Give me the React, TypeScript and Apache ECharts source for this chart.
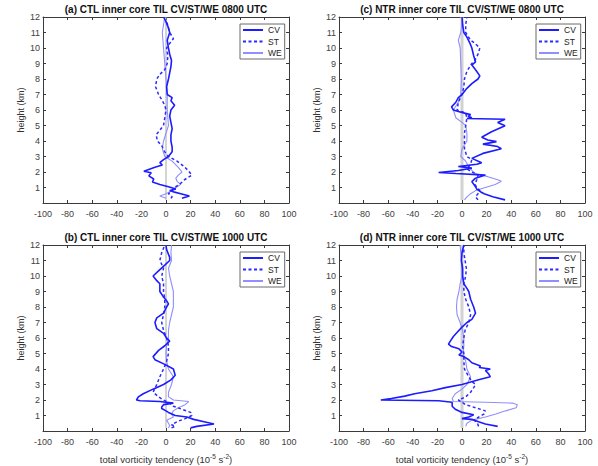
import React, { useEffect, useRef } from "react";
import * as echarts from "echarts";

// ---- data: [tendency (1e-5 s^-2), height (km)] ----
const ctl0800CV = [[13,0.3],[19,0.45],[12,0.6],[7,0.7],[3,0.8],[8,0.9],[2,1.05],[-5,1.2],[-11,1.35],[-10,1.55],[-14,1.75],[-12,1.95],[-18,2.05],[-9,2.3],[-3,2.45],[-5,2.6],[-2,2.8],[2,3],[5,3.3],[5,3.6],[4,4],[4,4.4],[5,4.8],[4,5.2],[3,5.6],[4,6],[7,6.3],[4,6.6],[5,6.8],[1,7],[0.5,7.5],[2,8],[3,8.4],[4,8.8],[4.5,9.2],[3,9.6],[2,10],[1,10.5],[3,11],[2,11.3],[0,11.7],[-2,12]];
const ctl0800ST = [[4,0.3],[5,0.4],[2,0.6],[5,0.8],[7,1.0],[11,1.2],[15,1.5],[21,1.8],[18,2.1],[14,2.4],[9,2.7],[2,3],[-1,3.3],[-3.5,3.7],[-7,4],[-8,4.4],[-5,4.7],[-2,5],[-1,5.5],[0,6],[-1,6.3],[-3,6.6],[-6,7],[-8.5,7.5],[-7.5,8],[-5,8.3],[-1,8.6],[1,9],[1.5,9.5],[0.5,10],[3,10.3],[6,10.6],[3,11],[0.5,11.7]];
const ctl0800WE = [[0,0.3],[-5,0.45],[0,0.6],[5,0.8],[8,1.0],[12,1.2],[9,1.4],[8,1.6],[10,1.8],[13,2.0],[10,2.3],[5,2.7],[-1,3],[-3,3.5],[-2,4],[2,5],[1,6],[1,7],[0,8],[-1,9],[-2,10],[-3,11],[-1,12]];

const ntr0800CV = [[35,0.2],[25,0.4],[18,0.6],[15,0.73],[12,0.9],[11,1.05],[8,1.38],[11,1.6],[19,1.8],[-5,1.9],[-19,1.97],[-3,2.1],[8,2.25],[-3,2.35],[12,2.5],[16,2.6],[8,2.88],[17,3.2],[32,3.5],[29,3.64],[17,3.8],[28,3.96],[21,4.07],[16,4.24],[24,4.6],[35,4.98],[29,5.19],[35,5.4],[4,5.45],[8,5.5],[5,5.6],[7,5.7],[2,5.8],[-3,5.9],[-7,6.0],[-8.5,6.2],[-5,6.5],[-3,6.8],[0,7],[4,7.4],[8,7.7],[13,8],[14.5,8.2],[11,8.6],[8,8.9],[11,9.1],[9.5,9.5],[8,10],[6.5,10.3],[4,10.7],[1.5,11],[0.5,11.5],[0,12]];
const ntr0800ST = [[13,0.2],[11,0.4],[13,0.6],[14.5,0.8],[12,1.0],[10.5,1.2],[12,1.5],[13,1.8],[8,2.0],[4,2.2],[7,2.5],[8,2.8],[4,3.0],[2,3.5],[2,4],[2,4.5],[3,5],[4,5.5],[3,5.8],[-4,6],[-3,6.5],[0,7],[1.5,7.5],[2,8],[4,8.5],[8,9],[10.5,9.2],[13,9.6],[14.5,10],[10.5,10.3],[7,10.5],[3,11],[3,11.5],[4,12]];
const ntr0800WE = [[2,0.2],[4,0.4],[7,0.6],[11,0.8],[19,1.0],[27,1.2],[32,1.4],[29,1.5],[21,1.7],[11,1.9],[8,2.1],[5,2.4],[3,2.7],[-1,3],[0,3.5],[4,4],[4,4.5],[3,5],[0,5.2],[-5,5.5],[-7,6],[-3,6.5],[-1,7],[-0.5,8],[-1,9],[-1.5,10],[-3,10.5],[-1,11],[0.5,12]];

const ctl1000CV = [[20,0.2],[25,0.3],[39,0.45],[31,0.6],[22.5,0.75],[17,0.9],[7.5,1.0],[2,1.2],[0,1.3],[-3.5,1.45],[-3.5,1.55],[-2,1.7],[6,1.8],[-5,1.9],[-21,1.95],[-24,2.0],[-22.5,2.2],[-18.5,2.4],[-10.5,2.7],[-2,3],[4,3.3],[7.5,3.6],[6,4],[-1,4.3],[-9,4.6],[-10.5,4.8],[-6,5.2],[-1,5.5],[3,5.8],[0.5,6],[-2,6.3],[-7.5,6.6],[-9,7],[-7.5,7.3],[-2,7.6],[0.5,8],[2,8.2],[0.5,8.4],[-2.5,8.7],[-5,9],[-5,9.5],[-7.5,9.7],[-10.5,10],[-6.5,10.3],[-1,10.7],[3,11],[3,11.2],[0.5,11.7],[0,12]];
const ctl1000ST = [[4.5,0.2],[7.5,0.3],[4.5,0.4],[9,0.6],[15.5,0.8],[21,1.0],[20,1.2],[13,1.4],[6,1.6],[3,1.8],[-2,2.0],[-6,2.2],[-10.5,2.5],[-7.5,3],[-5,3.5],[-2,4],[0.5,4.5],[2,5],[2,5.5],[0.5,6],[-2,6.5],[-3.5,7],[-2,7.5],[-1,8],[-1,8.5],[-2,9],[-2,9.5],[-3.5,10],[-2,10.5],[-5,11],[-3.5,11.5],[-1,12]];
const ctl1000WE = [[2,0.2],[3,0.35],[2,0.5],[0.5,0.7],[6,0.9],[4.5,1.1],[6,1.3],[10,1.5],[15.5,1.7],[18.5,1.9],[6,2.0],[2,2.2],[2,2.5],[4.5,3],[6,3.5],[2,4],[0.5,4.5],[0,5],[0.5,5.5],[2,6],[2,6.5],[3,7],[4.5,7.5],[6,8],[6,8.5],[6,9],[4.5,9.5],[3,10],[2,10.5],[4.5,11],[4,11.5],[4.5,12]];

const ntr1000CV = [[29,0.3],[19,0.45],[13.5,0.6],[8,0.75],[0,0.8],[5.5,0.9],[9.5,1.05],[0,1.2],[-5.5,1.4],[-8,1.6],[-8,1.85],[-19,1.95],[-66,2.0],[-57.5,2.1],[-46.5,2.25],[-38.5,2.4],[-24.5,2.6],[-13.5,2.8],[0,3],[13.5,3.3],[23,3.5],[21.5,3.7],[19,3.9],[23,4.0],[14,4.1],[15,4.2],[8,4.4],[5.5,4.6],[1.5,4.8],[-2.5,4.9],[0,5.1],[-2.5,5.3],[-8.5,5.45],[-11,5.6],[-9.5,5.8],[-7,6.1],[-3.5,6.4],[0,6.7],[4,7],[8,7.2],[11,7.6],[9.5,8],[7,8.5],[5.5,9],[4,9.2],[1.5,9.5],[0.5,10],[0.5,10.5],[-0.5,11],[0,11.5],[1.5,12]];
const ntr1000ST = [[13.5,0.3],[12.5,0.5],[10,0.7],[13.5,0.9],[18,1.1],[19,1.3],[11,1.5],[3,1.7],[-1,1.9],[-3,2.0],[3,2.2],[7,2.5],[9.5,2.8],[11,3.0],[8,3.2],[5.5,3.5],[2,4],[1.5,4.5],[1.5,5],[0.5,5.5],[1.5,6],[2.5,6.5],[5.5,7],[7,7.5],[5.5,8],[3,8.5],[1.5,9],[1.5,9.5],[3,10],[3.5,10.5],[2.5,11],[1.5,11.5],[1.5,12]];
const ntr1000WE = [[3,0.3],[4,0.5],[8,0.7],[19,0.9],[27.5,1.1],[35.5,1.3],[44,1.5],[45,1.7],[41,1.8],[19,1.85],[-7,1.9],[-8,2.1],[-5.5,2.4],[0,2.7],[4,3.0],[7,3.5],[4,4.0],[3,4.5],[1,5],[1.5,5.5],[1.5,6],[0.5,6.5],[-1.5,7],[-4,7.5],[-4.5,8],[-4,8.5],[-2.5,9],[-1.5,9.5],[0,10],[-0.5,11],[-1.5,12]];

const zeroLine = [[0, 0.2], [0, 12]];
const seriesNames = ["CV", "ST", "WE"];
const titles = [
  "(a) CTL inner core TIL CV/ST/WE 0800 UTC",
  "(c) NTR inner core TIL CV/ST/WE 0800 UTC",
  "(b) CTL inner core TIL CV/ST/WE 1000 UTC",
  "(d) NTR inner core TIL CV/ST/WE 1000 UTC",
];
const xRange = [-100, 100];
const yRange = [0, 12];

const FONT = "'Liberation Sans', Arial, Helvetica, sans-serif";
const AXIS_COLOR = "#3a3a3a";

export default function App() {
  const ref = useRef<HTMLDivElement>(null);
  useEffect(() => {
    document.body.style.margin = "0";
    if (!ref.current) return;
    const chart = echarts.init(ref.current, null, { renderer: "svg" });

    const panels = [
      { title: titles[0], left: 43, top: 17, data: [ctl0800CV, ctl0800ST, ctl0800WE], zw: 1, zc: "#a9a9a9", xName: false },
      { title: titles[1], left: 339, top: 17, data: [ntr0800CV, ntr0800ST, ntr0800WE], zw: 3, zc: "#d2d2d2", xName: false },
      { title: titles[2], left: 43, top: 245, data: [ctl1000CV, ctl1000ST, ctl1000WE], zw: 1, zc: "#a9a9a9", xName: true },
      { title: titles[3], left: 339, top: 245, data: [ntr1000CV, ntr1000ST, ntr1000WE], zw: 3, zc: "#d2d2d2", xName: true },
    ];
    const W = 246, H = 186;

    const grids: any[] = [];
    const xAxes: any[] = [];
    const yAxes: any[] = [];
    const series: any[] = [];
    const title: any[] = [];
    const legend: any[] = [];

    const lineStyles = [
      { color: "#1c1cff", width: 1.6, type: "solid" },
      { color: "#2a2aff", width: 1.5, type: [3, 2.5] },
      { color: "#8f8fff", width: 1.1, type: "solid" },
    ];

    panels.forEach((p, i) => {
      grids.push({ left: p.left, top: p.top, width: W, height: H, outerBoundsMode: "none" });
      const axisCommon = {
        axisLine: { show: true, onZero: false, lineStyle: { color: AXIS_COLOR, width: 1 } },
        axisTick: { show: true, inside: true, length: 3, lineStyle: { color: AXIS_COLOR } },
        splitLine: { show: false },
        gridIndex: i,
      };
      xAxes.push({
        ...axisCommon,
        type: "value", position: "bottom", min: xRange[0], max: xRange[1], interval: 20,
        axisLabel: { show: true, fontSize: 9, color: "#404040", margin: 6, fontFamily: FONT },
        name: p.xName ? "total vorticity tendency (10{sup|-5} s{sup|-2})" : "",
        nameLocation: "middle", nameGap: 22,
        nameTextStyle: {
          fontSize: 9.5, color: "#333", fontFamily: FONT, lineHeight: 12,
          rich: { sup: { fontSize: 6.5, verticalAlign: "top", lineHeight: 7, color: "#333", fontFamily: FONT } },
        },
      });
      xAxes.push({
        ...axisCommon,
        type: "value", position: "top", min: xRange[0], max: xRange[1], interval: 20,
        axisLabel: { show: false },
      });
      yAxes.push({
        ...axisCommon,
        type: "value", position: "left", min: yRange[0], max: yRange[1], interval: 1,
        axisLabel: {
          show: true, fontSize: 9, color: "#404040", margin: 3, fontFamily: FONT,
          formatter: (v: number) => (v === 0 ? "" : String(v)),
        },
        name: "height (km)", nameLocation: "middle", nameGap: 18,
        nameTextStyle: { fontSize: 9, color: "#333", fontFamily: FONT },
      });
      yAxes.push({
        ...axisCommon,
        type: "value", position: "right", min: yRange[0], max: yRange[1], interval: 1,
        axisLabel: { show: false },
      });
      title.push({
        text: p.title, left: p.left + W / 2, top: p.top - 13, textAlign: "center", padding: 0,
        textStyle: { fontSize: 10, fontWeight: "bold", color: "#111", fontFamily: FONT },
      });
      legend.push({
        orient: "vertical", left: p.left + 197, top: p.top + 7,
        data: seriesNames, itemWidth: 20, itemHeight: 8, itemGap: 2.5,
        padding: [1.5, 3, 1.5, 2], borderColor: "#6a6a6a", borderWidth: 1, backgroundColor: "#fff",
        itemStyle: { opacity: 0 },
        textStyle: { fontSize: 8.5, lineHeight: 9, color: "#222", fontFamily: FONT },
        selectedMode: false,
      });
      series.push({
        type: "line", name: "zero", data: zeroLine, xAxisIndex: 2 * i, yAxisIndex: 2 * i,
        symbol: "none", showSymbol: false, silent: true,
        lineStyle: { color: p.zc, width: p.zw },
      });
      [2, 1, 0].forEach((k) => {
        series.push({
          type: "line", name: seriesNames[k], data: p.data[k], xAxisIndex: 2 * i, yAxisIndex: 2 * i,
          symbol: "none", showSymbol: false, smooth: false,
          lineStyle: lineStyles[k], itemStyle: { color: lineStyles[k].color },
        });
      });
    });

    chart.setOption({
      animation: false,
      backgroundColor: "#fff",
      textStyle: { fontFamily: FONT },
      title, legend, grid: grids, xAxis: xAxes, yAxis: yAxes, series,
    });
    return () => chart.dispose();
  }, []);
  return <div ref={ref} style={{ width: 598, height: 466 }} />;
}
